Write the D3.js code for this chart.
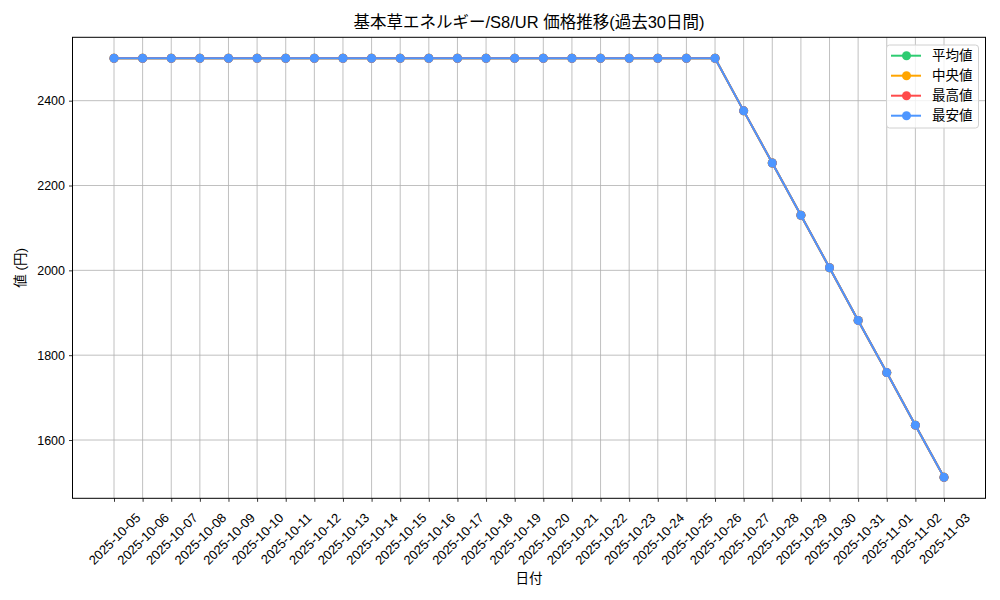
<!DOCTYPE html>
<html>
<head>
<meta charset="utf-8">
<script src="https://cdn.jsdelivr.net/npm/d3@7"></script>
<style>
  html, body { margin: 0; padding: 0; background: #fff; }
  svg { display: block; }
  text { font-family: "Liberation Sans", "Noto Sans CJK JP", sans-serif; fill: #000; }
</style>
</head>
<body>
<svg id="chart" width="1000" height="600"></svg>
<script>
// ---- data ----
const dates = [
  "2025-10-05","2025-10-06","2025-10-07","2025-10-08","2025-10-09","2025-10-10",
  "2025-10-11","2025-10-12","2025-10-13","2025-10-14","2025-10-15","2025-10-16",
  "2025-10-17","2025-10-18","2025-10-19","2025-10-20","2025-10-21","2025-10-22",
  "2025-10-23","2025-10-24","2025-10-25","2025-10-26","2025-10-27","2025-10-28",
  "2025-10-29","2025-10-30","2025-10-31","2025-11-01","2025-11-02","2025-11-03"
];
const avgValues  = [2500,2500,2500,2500,2500,2500,2500,2500,2500,2500,2500,2500,2500,2500,2500,2500,2500,2500,2500,2500,2500,2500,2376,2253,2130,2006,1882,1759,1635,1512];
const medValues  = [2500,2500,2500,2500,2500,2500,2500,2500,2500,2500,2500,2500,2500,2500,2500,2500,2500,2500,2500,2500,2500,2500,2376,2253,2130,2006,1882,1759,1635,1512];
const maxValues  = [2500,2500,2500,2500,2500,2500,2500,2500,2500,2500,2500,2500,2500,2500,2500,2500,2500,2500,2500,2500,2500,2500,2376,2253,2130,2006,1882,1759,1635,1512];
const minValues  = [2500,2500,2500,2500,2500,2500,2500,2500,2500,2500,2500,2500,2500,2500,2500,2500,2500,2500,2500,2500,2500,2500,2376,2253,2130,2006,1882,1759,1635,1512];
const seriesNames  = ["平均値","中央値","最高値","最安値"];
const seriesColors = ["#2ecc71","#ffa500","#ff4b4b","#4d96ff"];
const yTicks = [1600,1800,2000,2200,2400];
const titleText = "基本草エネルギー/S8/UR 価格推移(過去30日間)";
const xLabel = "日付";
const yLabel = "値 (円)";

const series = [avgValues, medValues, maxValues, minValues].map((v, i) => ({
  name: seriesNames[i], color: seriesColors[i], values: v
}));

// ---- layout ----
const svg = d3.select("#chart");
const L = 72.5, R = 985.5, T = 37.3, B = 498.3;

const allVals = series.flatMap(s => s.values);
const vmin = d3.min(allVals), vmax = d3.max(allVals);
const ypad = (vmax - vmin) * 0.05;
const n = dates.length;
const xpad = (n - 1) * 0.05;

const x = d3.scaleLinear().domain([-xpad, n - 1 + xpad]).range([L, R]);
const y = d3.scaleLinear().domain([vmin - ypad, vmax + ypad]).range([B, T]);

// grid
const grid = svg.append("g");
grid.selectAll("line.vx").data(dates).enter().append("line")
  .attr("x1", (d, i) => x(i)).attr("x2", (d, i) => x(i))
  .attr("y1", T).attr("y2", B)
  .attr("stroke", "#b0b0b0").attr("stroke-width", 0.8);
grid.selectAll("line.hy").data(yTicks).enter().append("line")
  .attr("x1", L).attr("x2", R)
  .attr("y1", d => y(d)).attr("y2", d => y(d))
  .attr("stroke", "#b0b0b0").attr("stroke-width", 0.8);

// lines + markers
const line = d3.line().x((d, i) => x(i)).y(d => y(d));
series.forEach(s => {
  const g = svg.append("g");
  g.append("path").datum(s.values)
    .attr("d", line).attr("fill", "none")
    .attr("stroke", s.color).attr("stroke-width", 2)
    .attr("stroke-linejoin", "round");
  g.selectAll("circle").data(s.values).enter().append("circle")
    .attr("cx", (d, i) => x(i)).attr("cy", d => y(d))
    .attr("r", 4.5).attr("fill", s.color);
});

// spines
svg.append("rect").attr("x", L).attr("y", T).attr("width", R - L).attr("height", B - T)
  .attr("fill", "none").attr("stroke", "#000").attr("stroke-width", 1);

// y axis
const yAxis = d3.axisLeft(y).tickValues(yTicks).tickSize(3.5).tickPadding(4).tickFormat(d3.format("d"));
const yg = svg.append("g").attr("transform", `translate(${L},0)`).call(yAxis);
yg.select(".domain").remove();
yg.selectAll(".tick line").attr("stroke", "#000").attr("stroke-width", 0.8);
yg.selectAll(".tick text").attr("font-size", "12.5px")
  .attr("font-family", '"Liberation Sans", "Noto Sans CJK JP", sans-serif').attr("fill", "#000");

// x axis
const xAxis = d3.axisBottom(x).tickValues(d3.range(n)).tickSize(3.5).tickFormat(i => dates[i]);
const xg = svg.append("g").attr("transform", `translate(0,${B})`).call(xAxis);
xg.select(".domain").remove();
xg.selectAll(".tick line").attr("stroke", "#000").attr("stroke-width", 0.8);
xg.selectAll(".tick text")
  .attr("font-size", "13px")
  .attr("font-family", '"Liberation Sans", "Noto Sans CJK JP", sans-serif')
  .attr("fill", "#000")
  .attr("text-anchor", "end")
  .attr("dy", "0.35em")
  .each(function () {
    const len = this.getComputedTextLength();
    d3.select(this).attr("transform", `translate(${len * 0.354},17) rotate(-45)`)
      .attr("x", 0).attr("y", 0);
  });

// title & labels
svg.append("text").attr("x", (L + R) / 2).attr("y", 28)
  .attr("text-anchor", "middle").attr("font-size", "16.5px").text(titleText);
svg.append("text").attr("x", (L + R) / 2).attr("y", 583)
  .attr("text-anchor", "middle").attr("font-size", "13.5px").text(xLabel);
svg.append("text")
  .attr("transform", `translate(25,${(T + B) / 2}) rotate(-90)`)
  .attr("text-anchor", "middle").attr("font-size", "13.5px").text(yLabel);

// legend
const lg = svg.append("g");
lg.append("rect").attr("x", 886.5).attr("y", 45).attr("width", 92).attr("height", 83)
  .attr("rx", 3).attr("fill", "#fff").attr("fill-opacity", 0.8)
  .attr("stroke", "#d0d0d0").attr("stroke-width", 1);
series.forEach((s, i) => {
  const cy = 55.7 + i * 20;
  lg.append("line").attr("x1", 891).attr("x2", 921).attr("y1", cy).attr("y2", cy)
    .attr("stroke", s.color).attr("stroke-width", 2);
  lg.append("circle").attr("cx", 906.5).attr("cy", cy).attr("r", 4.5).attr("fill", s.color);
  lg.append("text").attr("x", 932).attr("y", cy).attr("dy", "0.35em")
    .attr("font-size", "13.5px").text(s.name);
});
</script>
</body>
</html>
